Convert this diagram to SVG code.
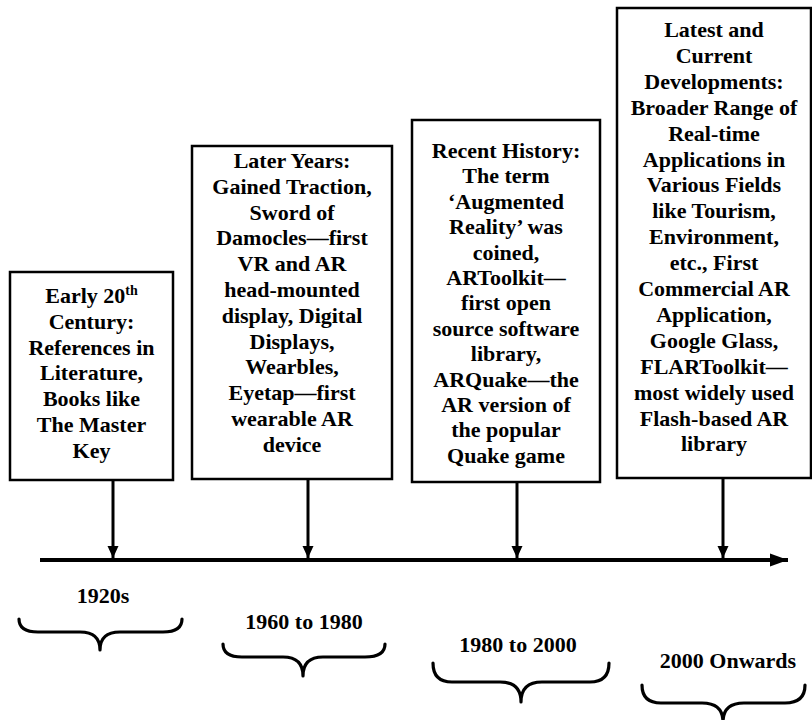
<svg xmlns="http://www.w3.org/2000/svg" width="812" height="720" viewBox="0 0 812 720">
  <style>
    .box { fill: #ffffff; stroke: #000000; stroke-width: 2.5; }
    .txt { font-family: "Liberation Serif", "Times New Roman", serif; font-weight: bold; font-size: 22px; fill: #000000; text-anchor: middle; }
    .lbl { font-family: "Liberation Serif", "Times New Roman", serif; font-weight: bold; font-size: 22px; fill: #000000; text-anchor: middle; }
    .sup { font-size: 14px; }
    .drop { stroke: #000000; stroke-width: 3; fill: none; }
    .axis { stroke: #000000; stroke-width: 4; fill: none; }
    .brace { stroke: #000000; stroke-width: 3.2; fill: none; stroke-linecap: round; stroke-linejoin: round; }
  </style>
  <defs>
    <marker id="head" markerUnits="userSpaceOnUse" markerWidth="14" markerHeight="14" refX="12" refY="7" orient="auto">
      <path d="M0,1.5 L12,7 L0,12.5 Z" fill="#000000"/>
    </marker>
    <marker id="axisHead" markerUnits="userSpaceOnUse" markerWidth="20" markerHeight="16" refX="18" refY="8" orient="auto">
      <path d="M0,1.5 L18,8 L0,14.5 Z" fill="#000000"/>
    </marker>
  </defs>
  <rect width="812" height="720" fill="#ffffff"/>

  <!-- 1920s -->
  <g id="era-1920s">
    <rect class="box" x="10" y="272" width="163" height="208"/>
    <text class="txt" x="91.5" y="303">Early 20<tspan class="sup" dy="-8">th</tspan></text>
    <text class="txt" x="91.5" y="328.8">Century:</text>
    <text class="txt" x="91.5" y="354.6">References in</text>
    <text class="txt" x="91.5" y="380.4">Literature,</text>
    <text class="txt" x="91.5" y="406.2">Books like</text>
    <text class="txt" x="91.5" y="432">The Master</text>
    <text class="txt" x="91.5" y="457.8">Key</text>
  </g>

  <!-- 1960 to 1980 -->
  <g id="era-1960-1980">
    <rect class="box" x="192" y="146" width="200" height="333"/>
    <text class="txt" x="292" y="168">Later Years:</text>
    <text class="txt" x="292" y="193.8">Gained Traction,</text>
    <text class="txt" x="292" y="219.6">Sword of</text>
    <text class="txt" x="292" y="245.4">Damocles—first</text>
    <text class="txt" x="292" y="271.2">VR and AR</text>
    <text class="txt" x="292" y="297">head-mounted</text>
    <text class="txt" x="292" y="322.8">display, Digital</text>
    <text class="txt" x="292" y="348.6">Displays,</text>
    <text class="txt" x="292" y="374.4">Wearbles,</text>
    <text class="txt" x="292" y="400.2">Eyetap—first</text>
    <text class="txt" x="292" y="426">wearable AR</text>
    <text class="txt" x="292" y="451.8">device</text>
  </g>

  <!-- 1980 to 2000 -->
  <g id="era-1980-2000">
    <rect class="box" x="412" y="120" width="188" height="362"/>
    <text class="txt" x="506" y="158">Recent History:</text>
    <text class="txt" x="506" y="183.4">The term</text>
    <text class="txt" x="506" y="208.8">‘Augmented</text>
    <text class="txt" x="506" y="234.2">Reality’ was</text>
    <text class="txt" x="506" y="259.6">coined,</text>
    <text class="txt" x="506" y="285">ARToolkit—</text>
    <text class="txt" x="506" y="310.4">first open</text>
    <text class="txt" x="506" y="335.8">source software</text>
    <text class="txt" x="506" y="361.2">library,</text>
    <text class="txt" x="506" y="386.6">ARQuake—the</text>
    <text class="txt" x="506" y="412">AR version of</text>
    <text class="txt" x="506" y="437.4">the popular</text>
    <text class="txt" x="506" y="462.8">Quake game</text>
  </g>

  <!-- 2000 onwards (box runs to the right page edge) -->
  <g id="era-2000-onwards">
    <rect class="box" x="617" y="8" width="194" height="470"/>
    <text class="txt" x="714" y="37">Latest and</text>
    <text class="txt" x="714" y="62.9">Current</text>
    <text class="txt" x="714" y="88.8">Developments:</text>
    <text class="txt" x="714" y="114.7">Broader Range of</text>
    <text class="txt" x="714" y="140.6">Real-time</text>
    <text class="txt" x="714" y="166.5">Applications in</text>
    <text class="txt" x="714" y="192.4">Various Fields</text>
    <text class="txt" x="714" y="218.3">like Tourism,</text>
    <text class="txt" x="714" y="244.2">Environment,</text>
    <text class="txt" x="714" y="270.1">etc., First</text>
    <text class="txt" x="714" y="296">Commercial AR</text>
    <text class="txt" x="714" y="321.9">Application,</text>
    <text class="txt" x="714" y="347.8">Google Glass,</text>
    <text class="txt" x="714" y="373.7">FLARToolkit—</text>
    <text class="txt" x="714" y="399.6">most widely used</text>
    <text class="txt" x="714" y="425.5">Flash-based AR</text>
    <text class="txt" x="714" y="451.4">library</text>
  </g>

  <!-- timeline axis and drop arrows -->
  <g id="connectors">
    <line class="axis" x1="40" y1="560" x2="788" y2="560" marker-end="url(#axisHead)"/>
    <line class="drop" x1="113" y1="480" x2="113" y2="558" marker-end="url(#head)"/>
    <line class="drop" x1="308" y1="479" x2="308" y2="558" marker-end="url(#head)"/>
    <line class="drop" x1="517" y1="482" x2="517" y2="558" marker-end="url(#head)"/>
    <line class="drop" x1="723" y1="478" x2="723" y2="558" marker-end="url(#head)"/>
  </g>

  <!-- period labels with braces -->
  <g id="period-1920s">
    <text class="lbl" x="103" y="603">1920s</text>
    <path class="brace" d="M19,619 Q19,632 38,632 L80,632 Q100,632 100,650 Q100,632 120,632 L163,632 Q182,632 182,619"/>
  </g>
  <g id="period-1960-1980">
    <text class="lbl" x="304" y="629">1960 to 1980</text>
    <path class="brace" d="M223,644 Q223,657 242,657 L283,657 Q303,657 303,676 Q303,657 323,657 L365,657 Q385,657 385,644"/>
  </g>
  <g id="period-1980-2000">
    <text class="lbl" x="518" y="652">1980 to 2000</text>
    <path class="brace" d="M433,663 Q433,682 452,682 L500,682 Q521,682 521,702 Q521,682 542,682 L590,682 Q609,682 609,663"/>
  </g>
  <g id="period-2000-onwards">
    <text class="lbl" x="728" y="668">2000 Onwards</text>
    <path class="brace" d="M642,685 Q642,703 661,703 L702,703 Q723,703 723,722 Q723,703 744,703 L785,703 Q805,703 805,685"/>
  </g>
</svg>
